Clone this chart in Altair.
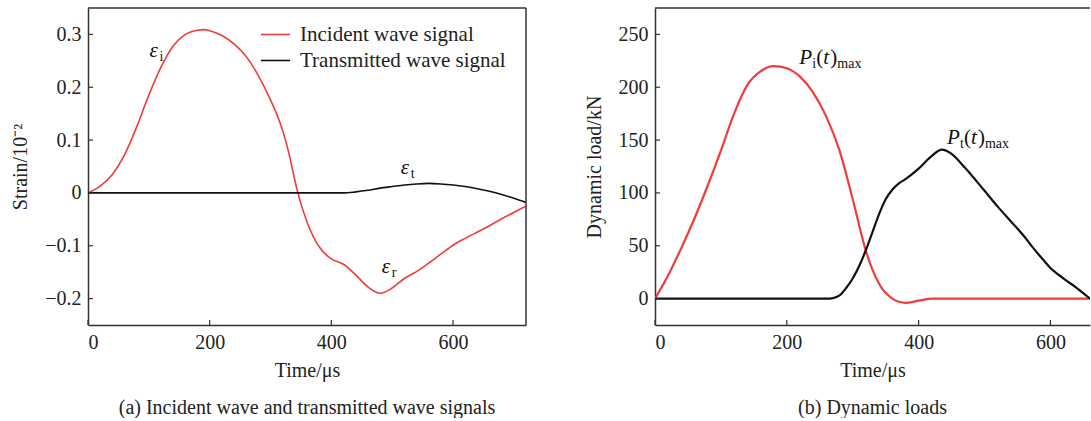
import altair as alt
import pandas as pd

FONT = "Liberation Serif"
AX = "#333333"
RED = "#f03c3c"
BLK = "#111111"

# ---------------- Panel (a): strain signals ----------------
t_inc = [0, 20, 40, 60, 80, 100, 120, 140, 160, 180, 190, 200, 220, 240, 260, 280,
         300, 310, 320, 330, 340, 345, 360, 380, 400, 420, 440, 460, 480, 500, 520, 540,
         560, 580, 600, 620, 640, 660, 680, 700, 720]
strain_inc = [0, 0.013, 0.035, 0.072, 0.125, 0.185, 0.238, 0.278, 0.300, 0.308, 0.309,
              0.307, 0.298, 0.282, 0.258, 0.222, 0.176, 0.150, 0.118, 0.076, 0.024, 0.0, -0.055,
              -0.102, -0.125, -0.135, -0.155, -0.178, -0.19, -0.18, -0.162, -0.149,
              -0.133, -0.116, -0.099, -0.086, -0.074, -0.062, -0.049, -0.037, -0.025]
t_tra = [0, 420, 440, 460, 480, 500, 520, 540, 560, 580, 600, 620, 640, 660, 680, 700, 720]
strain_tra = [0, 0, 0.002, 0.005, 0.009, 0.012, 0.015, 0.017, 0.018, 0.017, 0.015,
              0.012, 0.008, 0.003, -0.003, -0.010, -0.018]
series_a = ["Incident wave signal", "Transmitted wave signal"]

# ---------------- Panel (b): dynamic loads ----------------
t_pi = [0, 20, 40, 60, 80, 100, 120, 140, 160, 180, 200, 220, 240, 260, 280, 300,
        320, 340, 360, 370, 380, 400, 420, 660]
load_pi = [0, 22, 48, 76, 107, 140, 175, 202, 215, 220, 218, 210, 195, 172, 140, 94,
           45, 14, 0, -3, -4, -2, 0, 0]
t_pt = [0, 260, 270, 280, 290, 300, 310, 320, 330, 340, 350, 360, 370, 380, 400, 420,
        435, 450, 470, 500, 520, 540, 560, 575, 590, 600, 620, 640, 660]
load_pt = [0, 0, 0.5, 3, 10, 19, 31, 46, 63, 80, 94, 103, 109, 113, 123, 135, 141, 137,
           124, 102, 87, 73, 59, 47, 36, 29, 19, 10, 0]
series_b = ["Pi", "Pt"]

# tick values
xticks_a = [0, 200, 400, 600]
yticks_a = [-0.2, -0.1, 0, 0.1, 0.2, 0.3]
xticks_b = [0, 200, 400, 600]
yticks_b = [0, 50, 100, 150, 200, 250]

# annotation anchors (data coords)
ann_eps_i = (101, 0.258)
ann_eps_t = (514, 0.036)
ann_eps_r = (483, -0.152)
ann_p_i = (219, 222)
ann_p_t = (443, 146)

WA, HA = 438, 317
WB, HB = 435, 317

xs_a = alt.Scale(domain=[0, 720], nice=False, zero=False)
ys_a = alt.Scale(domain=[-0.25, 0.35], nice=False, zero=False)
xs_b = alt.Scale(domain=[0, 660], nice=False, zero=False)
ys_b = alt.Scale(domain=[-25, 275], nice=False, zero=False)

common = dict(ticks=False, domainColor=AX, domainWidth=1.5, grid=False,
              labelFont=FONT, titleFont=FONT, labelFontSize=20, titleFontSize=20,
              titleFontWeight="normal", labelColor="#222", titleColor="#222")


def axis_x(vals):
    return alt.Axis(values=vals, title="Time/μs", labelPadding=7, titlePadding=8, **common)


xax_a = axis_x(xticks_a)
xax_b = axis_x(xticks_b)
yax_a = alt.Axis(values=yticks_a, title="Strain/10⁻²", labelPadding=7, titlePadding=14,
                 labelExpr="datum.value == 0 ? '0' : format(datum.value, '.1f')", **common)
yax_b = alt.Axis(values=yticks_b, title="Dynamic load/kN", labelPadding=7, titlePadding=14, **common)


def ticks(xvals, yvals, xs, ys, xax, yax, H):
    xt = alt.Chart(pd.DataFrame({"t": xvals})).mark_rule(color=AX, strokeWidth=1.2).encode(
        x=alt.X("t:Q", scale=xs, axis=xax), y=alt.value(H), y2=alt.value(H - 5))
    yt = alt.Chart(pd.DataFrame({"v": yvals})).mark_rule(color=AX, strokeWidth=1.2).encode(
        y=alt.Y("v:Q", scale=ys, axis=yax), x=alt.value(0), x2=alt.value(5))
    return [xt, yt]


def border(W, H, right=True):
    top = alt.Chart(pd.DataFrame({"d": [0]})).mark_rule(color=AX, strokeWidth=1.5).encode(
        x=alt.value(0), x2=alt.value(W), y=alt.value(0))
    out = [top]
    if right:
        out.append(alt.Chart(pd.DataFrame({"d": [0]})).mark_rule(color=AX, strokeWidth=1.5).encode(
            x=alt.value(W), y=alt.value(0), y2=alt.value(H)))
    return out


def label(anchor, pieces, xs, ys, xax, yax):
    """pieces: (text, dx, dy, size, italic)"""
    df = pd.DataFrame({"t": [anchor[0]], "v": [anchor[1]]})
    layers = []
    for text, dx, dy, size, italic in pieces:
        kw = dict(text=text, dx=dx, dy=dy, fontSize=size, font=FONT, align="left",
                  baseline="alphabetic", color="#111111")
        if italic:
            kw["fontStyle"] = "italic"
        layers.append(alt.Chart(df).mark_text(**kw).encode(
            x=alt.X("t:Q", scale=xs, axis=xax), y=alt.Y("v:Q", scale=ys, axis=yax)))
    return layers


# ---- panel (a) ----
df_a = pd.concat([
    pd.DataFrame({"t": t_inc, "v": strain_inc, "s": series_a[0]}),
    pd.DataFrame({"t": t_tra, "v": strain_tra, "s": series_a[1]}),
])

lines_a = alt.Chart(df_a).mark_line(strokeWidth=1.6, interpolate="monotone", clip=True).encode(
    x=alt.X("t:Q", scale=xs_a, axis=xax_a),
    y=alt.Y("v:Q", scale=ys_a, axis=yax_a),
    color=alt.Color("s:N", scale=alt.Scale(domain=series_a, range=[RED, BLK]),
                    legend=alt.Legend(title=None, orient="none", legendX=172, legendY=11,
                                      symbolType="stroke", symbolSize=850, symbolStrokeWidth=1.6,
                                      labelFont=FONT, labelFontSize=21, labelColor="#222",
                                      labelOffset=9, rowPadding=-4, labelLimit=400)),
    detail="s:N",
)

small, big = 14, 21
ann_a = (label(ann_eps_i, [("ε", 0, 0, big, True), ("i", 10, 4, small, False)], xs_a, ys_a, xax_a, yax_a)
         + label(ann_eps_t, [("ε", 0, 0, big, True), ("t", 10, 4, small, False)], xs_a, ys_a, xax_a, yax_a)
         + label(ann_eps_r, [("ε", 0, 0, big, True), ("r", 10, 4, small, False)], xs_a, ys_a, xax_a, yax_a))

panel_a = alt.layer(lines_a, *ticks(xticks_a, yticks_a, xs_a, ys_a, xax_a, yax_a, HA),
                    *border(WA, HA), *ann_a).properties(
    width=WA, height=HA,
    title=alt.TitleParams("(a) Incident wave and transmitted wave signals", orient="bottom",
                          font=FONT, fontSize=20, fontWeight="normal", color="#222",
                          anchor="middle", frame="group", offset=18))

# ---- panel (b) ----
df_b = pd.concat([
    pd.DataFrame({"t": t_pi, "v": load_pi, "s": series_b[0]}),
    pd.DataFrame({"t": t_pt, "v": load_pt, "s": series_b[1]}),
])

lines_b = alt.Chart(df_b).mark_line(strokeWidth=2.2, interpolate="monotone", clip=True).encode(
    x=alt.X("t:Q", scale=xs_b, axis=xax_b),
    y=alt.Y("v:Q", scale=ys_b, axis=yax_b),
    color=alt.Color("s:N", scale=alt.Scale(domain=series_b, range=[RED, BLK]), legend=None),
    detail="s:N",
)

pieces_pi = [("P", 0, 0, big, True), ("i", 13, 4, small, False), ("(", 17, 0, big, False),
             ("t", 24, 0, big, True), (")", 31, 0, big, False), ("max", 38, 4, small, False)]
pieces_pt = [("P", 0, 0, big, True), ("t", 13, 4, small, False), ("(", 17, 0, big, False),
             ("t", 24, 0, big, True), (")", 31, 0, big, False), ("max", 38, 4, small, False)]
ann_b = (label(ann_p_i, pieces_pi, xs_b, ys_b, xax_b, yax_b)
         + label(ann_p_t, pieces_pt, xs_b, ys_b, xax_b, yax_b))

panel_b = alt.layer(lines_b, *ticks(xticks_b, yticks_b, xs_b, ys_b, xax_b, yax_b, HB),
                    *border(WB, HB, right=False), *ann_b).properties(
    width=WB, height=HB,
    title=alt.TitleParams("(b) Dynamic loads", orient="bottom",
                          font=FONT, fontSize=20, fontWeight="normal", color="#222",
                          anchor="middle", frame="group", offset=18))

chart = alt.hconcat(panel_a, panel_b, spacing=57).resolve_scale(color="independent").properties(
    padding={"left": 10, "top": 7, "right": 0, "bottom": 0}, background="white"
).configure_view(stroke=None)

chart.save("out.html", embed_options={"renderer": "svg", "actions": False})
